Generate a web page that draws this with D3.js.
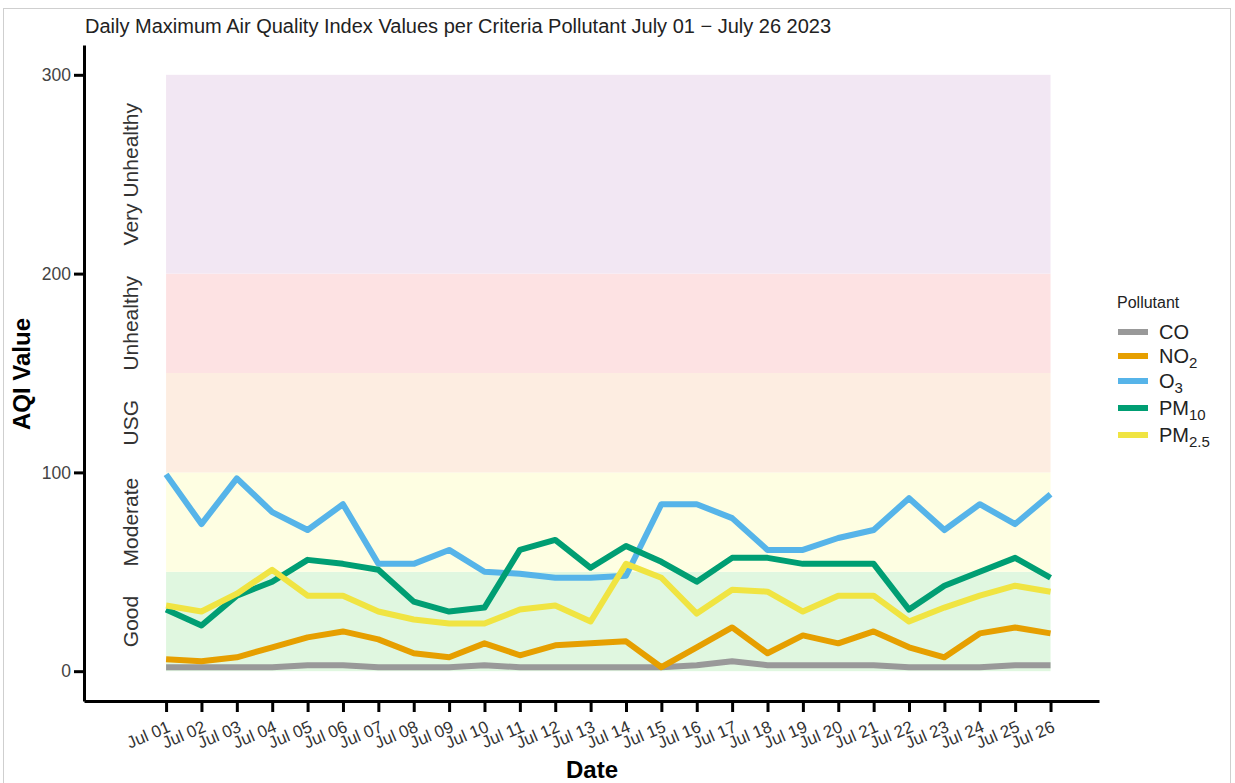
<!DOCTYPE html>
<html><head><meta charset="utf-8">
<script src="https://cdn.jsdelivr.net/npm/d3@7"></script>
<style>
body{margin:0;background:#fff;}
text{font-family:"Liberation Sans",Arial,sans-serif;}
</style></head>
<body>
<svg id="chart" width="1235" height="783"></svg>
<script>
const dates = ["Jul 01","Jul 02","Jul 03","Jul 04","Jul 05","Jul 06","Jul 07","Jul 08","Jul 09","Jul 10","Jul 11","Jul 12","Jul 13","Jul 14","Jul 15","Jul 16","Jul 17","Jul 18","Jul 19","Jul 20","Jul 21","Jul 22","Jul 23","Jul 24","Jul 25","Jul 26"];
const CO    = [2,2,2,2,3,3,2,2,2,3,2,2,2,2,2,3,5,3,3,3,3,2,2,2,3,3];
const NO2   = [6,5,7,12,17,20,16,9,7,14,8,13,14,15,2,12,22,9,18,14,20,12,7,19,22,19];
const O3    = [99,74,97,80,71,84,54,54,61,50,49,47,47,48,84,84,77,61,61,67,71,87,71,84,74,89];
const PM10  = [31,23,38,45,56,54,51,35,30,32,61,66,52,63,55,45,57,57,54,54,54,31,43,50,57,47];
const PM25  = [33,30,39,51,38,38,30,26,24,24,31,33,25,54,47,29,41,40,30,38,38,25,32,38,43,40];
const yTicks = [0,100,200,300];
const bands = [
  {name:"Good", lo:0, hi:50, color:"#e0f7e0"},
  {name:"Moderate", lo:50, hi:100, color:"#fefee2"},
  {name:"USG", lo:100, hi:150, color:"#fdede1"},
  {name:"Unhealthy", lo:150, hi:200, color:"#fde2e3"},
  {name:"Very Unhealthy", lo:200, hi:300, color:"#f2e7f3"}
];
const series = [
  {key:"CO", values:CO, color:"#999999"},
  {key:"NO2", values:NO2, color:"#E69F00"},
  {key:"O3", values:O3, color:"#56B4E9"},
  {key:"PM10", values:PM10, color:"#009E73"},
  {key:"PM2.5", values:PM25, color:"#F0E442"}
];
const legendLabels = [["CO",""],["NO","2"],["O","3"],["PM","10"],["PM","2.5"]];

const svg = d3.select("#chart");
svg.append("rect").attr("x",3.5).attr("y",8.5).attr("width",1227).attr("height",790)
  .attr("fill","#fff").attr("stroke","#cfcfcf").attr("stroke-width",1);

const x = d3.scaleLinear().domain([-2.32, 26.37]).range([84, 1099]);
const y = d3.scaleLinear().domain([-15, 315]).range([701, 45]);

// bands
svg.append("g").selectAll("rect").data(bands).join("rect")
  .attr("x", x(0)).attr("width", x(dates.length-1)-x(0))
  .attr("y", d=>y(d.hi)).attr("height", d=>y(d.lo)-y(d.hi))
  .attr("fill", d=>d.color);

// band labels
svg.append("g").selectAll("text").data(bands).join("text")
  .attr("transform", d=>`translate(138,${y((d.lo+d.hi)/2)}) rotate(-90)`)
  .attr("text-anchor","middle").attr("font-size",21).attr("fill","#333")
  .text(d=>d.name);

// lines
const line = d3.line().x((d,i)=>x(i)).y(d=>y(d));
svg.append("g").selectAll("path").data(series).join("path")
  .attr("d", d=>line(d.values)).attr("fill","none")
  .attr("stroke", d=>d.color).attr("stroke-width",6)
  .attr("stroke-linejoin","round").attr("stroke-linecap","butt");

// y axis
const yAxis = svg.append("g").attr("transform","translate(84,0)")
  .call(d3.axisLeft(y).tickValues(yTicks).tickSize(10).tickSizeOuter(0).tickPadding(3));
yAxis.select(".domain").attr("stroke","#000").attr("stroke-width",3);
yAxis.selectAll(".tick line").attr("stroke","#000").attr("stroke-width",3);
yAxis.selectAll(".tick text").attr("font-size",17.5).attr("fill","#444")
  .attr("font-family","Liberation Sans, Arial, sans-serif");

// x axis
const xAxis = svg.append("g").attr("transform","translate(0,701)")
  .call(d3.axisBottom(x).tickValues(d3.range(dates.length)).tickFormat(i=>dates[i]).tickSize(11).tickSizeOuter(0).tickPadding(4));
xAxis.select(".domain").attr("stroke","#000").attr("stroke-width",3);
xAxis.selectAll(".tick line").attr("stroke","#000").attr("stroke-width",3);
xAxis.selectAll(".tick text").attr("font-size",17).attr("fill","#333")
  .attr("font-family","Liberation Sans, Arial, sans-serif")
  .attr("text-anchor","end").attr("x",0).attr("y",0).attr("dy",0)
  .attr("transform","translate(5,30) rotate(-23)");

// axis titles
svg.append("text").attr("transform","translate(30,374) rotate(-90)")
  .attr("text-anchor","middle").attr("font-size",24).attr("font-weight","bold").attr("fill","#000")
  .text("AQI Value");
svg.append("text").attr("x",592).attr("y",778).attr("text-anchor","middle")
  .attr("font-size",24).attr("font-weight","bold").attr("fill","#000").text("Date");

// title
svg.append("text").attr("x",85).attr("y",33).attr("font-size",20).attr("fill","#222")
  .text("Daily Maximum Air Quality Index Values per Criteria Pollutant July 01 \u2212 July 26 2023");

// legend
const lg = svg.append("g").attr("transform","translate(1117,0)");
lg.append("text").attr("x",0).attr("y",308).attr("font-size",16).attr("fill","#222").text("Pollutant");
const ys = [332,356,381,408,435];
series.forEach((s,i)=>{
  lg.append("line").attr("x1",1).attr("x2",31).attr("y1",ys[i]).attr("y2",ys[i])
    .attr("stroke",s.color).attr("stroke-width",6);
  const t = lg.append("text").attr("x",42).attr("y",ys[i]+7).attr("font-size",20).attr("fill","#222");
  t.append("tspan").text(legendLabels[i][0]);
  if (legendLabels[i][1]) t.append("tspan").attr("dy",5).attr("font-size",15).text(legendLabels[i][1]);
});
</script>
</body></html>
